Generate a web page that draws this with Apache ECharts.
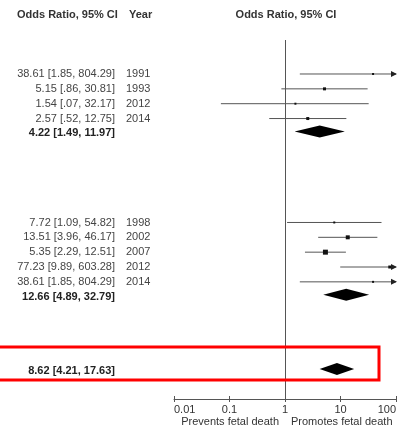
<!DOCTYPE html>
<html>
<head>
<meta charset="utf-8">
<script src="https://cdn.jsdelivr.net/npm/echarts@6/dist/echarts.min.js"></script>
<style>html,body{margin:0;padding:0;background:#fff;}#c{width:405px;height:434px;}</style>
</head>
<body>
<div id="c"></div>
<script>
// ---- data ----
const group1OR = [38.61, 5.15, 1.54, 2.57];
const group1Lo = [1.85, 0.86, 0.07, 0.52];
const group1Hi = [804.29, 30.81, 32.17, 12.75];
const group1Years = ['1991', '1993', '2012', '2014'];
const group1Weights = [11, 25, 11, 25];
const group1Summary = [4.22, 1.49, 11.97];

const group2OR = [7.72, 13.51, 5.35, 77.23, 38.61];
const group2Lo = [1.09, 3.96, 2.29, 9.89, 1.85];
const group2Hi = [54.82, 46.17, 12.51, 603.28, 804.29];
const group2Years = ['1998', '2002', '2007', '2012', '2014'];
const group2Weights = [11, 44, 69, 25, 11];
const group2Summary = [12.66, 4.89, 32.79];

const overallSummary = [8.62, 4.21, 17.63];

const tickLabels = ['0.01', '0.1', '1', '10', '100'];
const headerLeft = 'Odds Ratio, 95% CI';
const headerYear = 'Year';
const headerRight = 'Odds Ratio, 95% CI';
const leftLabel = 'Prevents fetal death';
const rightLabel = 'Promotes fetal death';

// ---- build rows ----
const fmt = v => v.toFixed(2).replace(/^0\./, '.');
const ciText = (or, lo, hi) => fmt(or) + ' [' + fmt(lo) + ', ' + fmt(hi) + ']';

const studies = [];
group1OR.forEach((v, i) => studies.push([v, group1Lo[i], group1Hi[i], i, group1Weights[i]]));
group2OR.forEach((v, i) => studies.push([v, group2Lo[i], group2Hi[i], 10 + i, group2Weights[i]]));
const years = group1Years.concat(group2Years);
const summaries = [
  [group1Summary[0], group1Summary[1], group1Summary[2], 4],
  [group2Summary[0], group2Summary[1], group2Summary[2], 15],
  [overallSummary[0], overallSummary[1], overallSummary[2], 20]
];
const XMAX = 100;
const TXT = '#444';
const LINE = '#555';
const FONT = 'Liberation Sans, Arial, sans-serif';

const chart = echarts.init(document.getElementById('c'));
chart.setOption({
  animation: false,
  backgroundColor: '#fff',
  grid: { left: 174, right: 9, top: 40, bottom: 35 },
  xAxis: [{
    type: 'log', logBase: 10, min: 0.01, max: 100, position: 'bottom',
    axisLine: { show: true, onZero: false, lineStyle: { color: LINE, width: 1 } },
    axisTick: { show: true, length: 3, lineStyle: { color: LINE } },
    splitLine: { show: false },
    axisLabel: {
      color: '#333', fontSize: 11, fontFamily: FONT, margin: 5,
      alignMinLabel: 'left', alignMaxLabel: 'right',
      formatter: (v, i) => tickLabels[i]
    }
  }, {
    type: 'log', logBase: 10, min: 0.01, max: 100, position: 'bottom',
    axisLine: { show: false, onZero: false },
    axisTick: { show: true, inside: true, length: 3, lineStyle: { color: LINE } },
    axisLabel: { show: false }, splitLine: { show: false }
  }],
  yAxis: { type: 'value', inverse: true, min: -2.29, max: 21.89, show: false },
  graphic: [
    { type: 'text', left: 17, top: 9, style: { text: headerLeft, font: 'bold 11px ' + FONT, fill: '#333' } },
    { type: 'text', left: 129, top: 9, style: { text: headerYear, font: 'bold 11px ' + FONT, fill: '#333' } },
    { type: 'text', x: 286, y: 15, style: { text: headerRight, font: 'bold 11px ' + FONT, fill: '#333', align: 'center', verticalAlign: 'middle' } },
    { type: 'text', x: 279, y: 422, style: { text: leftLabel, font: '11px ' + FONT, fill: '#333', align: 'right', verticalAlign: 'middle' } },
    { type: 'text', x: 291, y: 422, style: { text: rightLabel, font: '11px ' + FONT, fill: '#333', align: 'left', verticalAlign: 'middle' } },
    { type: 'rect', z: 100, shape: { x: -4, y: 347, width: 383, height: 33 }, style: { fill: 'none', stroke: '#ff0000', lineWidth: 3 } }
  ],
  series: [{
    type: 'custom',
    xAxisIndex: 0,
    data: studies,
    clip: false,
    renderItem: function (params, api) {
      const or = api.value(0), lo = api.value(1), hi = api.value(2), row = api.value(3), w = api.value(4);
      const p0 = api.coord([lo, row]);
      const p1 = api.coord([Math.min(hi, XMAX), row]);
      const pc = api.coord([or, row]);
      const s = Math.max(1.5, 0.6 * Math.sqrt(w));
      const ch = [
        { type: 'line', shape: { x1: p0[0], y1: p0[1], x2: p1[0], y2: p1[1] }, style: { stroke: LINE, lineWidth: 1 } },
        { type: 'rect', shape: { x: pc[0] - s / 2, y: pc[1] - s / 2, width: s, height: s }, style: { fill: '#111' } },
        { type: 'text', style: { text: ciText(or, lo, hi), x: 115, y: pc[1], align: 'right', verticalAlign: 'middle', font: '11px ' + FONT, fill: TXT } },
        { type: 'text', style: { text: years[params.dataIndex], x: 126, y: pc[1], align: 'left', verticalAlign: 'middle', font: '11px ' + FONT, fill: TXT } }
      ];
      if (hi > XMAX) {
        ch.push({ type: 'polygon', shape: { points: [[p1[0] + 1, p1[1]], [p1[0] - 5, p1[1] - 3], [p1[0] - 5, p1[1] + 3]] }, style: { fill: '#222' } });
      }
      return { type: 'group', children: ch };
    },
    markLine: {
      silent: true, symbol: 'none', label: { show: false },
      lineStyle: { color: LINE, width: 1, type: 'solid' },
      data: [{ xAxis: 1 }]
    }
  }, {
    type: 'custom',
    xAxisIndex: 0,
    data: summaries,
    clip: false,
    renderItem: function (params, api) {
      const or = api.value(0), lo = api.value(1), hi = api.value(2), row = api.value(3);
      const pl = api.coord([lo, row]), pr = api.coord([hi, row]), pc = api.coord([or, row]);
      const y = pc[1] - 2;
      return { type: 'group', children: [
        { type: 'polygon', shape: { points: [[pl[0], y], [pc[0], y - 6], [pr[0], y], [pc[0], y + 6]] }, style: { fill: '#000' } },
        { type: 'text', style: { text: ciText(or, lo, hi), x: 115, y: pc[1], align: 'right', verticalAlign: 'middle', font: 'bold 11px ' + FONT, fill: '#222' } }
      ] };
    }
  }]
});
</script>
</body>
</html>
